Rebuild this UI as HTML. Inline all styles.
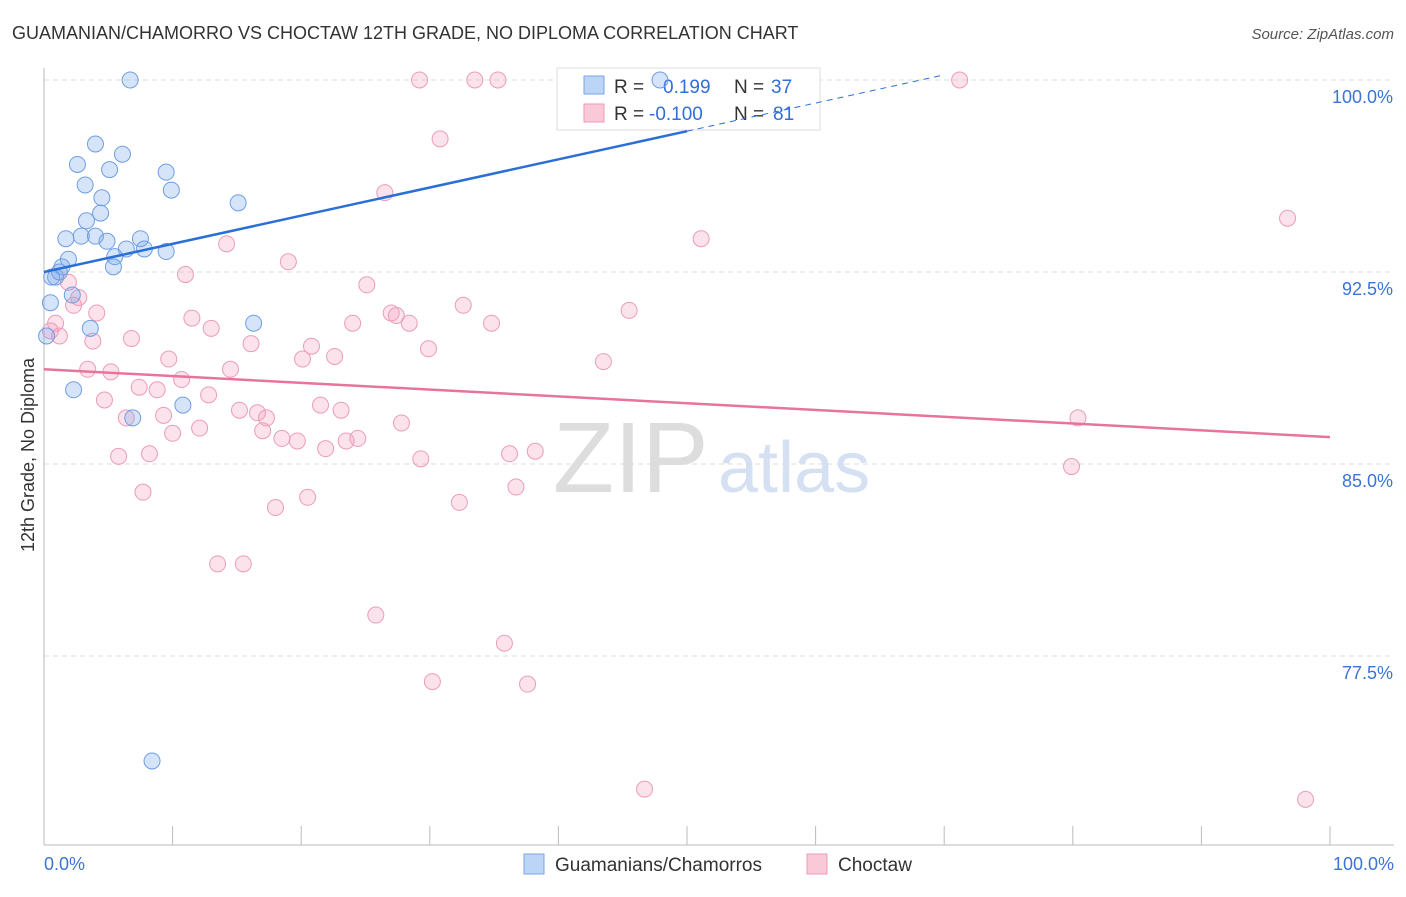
<!DOCTYPE html>
<html><head><meta charset="utf-8"><style>
body{margin:0;background:#fff;font-family:"Liberation Sans",sans-serif}
svg text{font-family:"Liberation Sans",sans-serif}
</style></head><body>
<svg id="c" width="1406" height="892">
<text x="12" y="39" font-size="18" fill="#333">GUAMANIAN/CHAMORRO VS CHOCTAW 12TH GRADE, NO DIPLOMA CORRELATION CHART</text>
<text x="1394" y="39" font-size="15" fill="#555" font-style="italic" text-anchor="end">Source: ZipAtlas.com</text>
<text x="553" y="492" font-size="100" fill="#ddd" font-family="Liberation Serif">ZIP</text>
<text x="718" y="492" font-size="72" fill="#d5e1f2">atlas</text>
<text transform="translate(34,455) rotate(-90)" font-size="18" fill="#333" text-anchor="middle">12th Grade, No Diploma</text>
<g id="grid"></g>
<g>
<rect x="557" y="68" width="263" height="62" fill="#fff" stroke="#ddd"/>
<rect x="584" y="76" width="20" height="18" fill="#bcd4f6" stroke="#7aa6e6"/>
<rect x="584" y="104" width="20" height="18" fill="#f9c9d8" stroke="#ee9ab6"/>
<text x="614" y="93" font-size="19" fill="#333">R = </text><text x="663" y="93" font-size="19" fill="#2f6fd6">0.199</text>
<text x="734" y="93" font-size="19" fill="#333">N = </text><text x="771" y="93" font-size="19" fill="#2f6fd6">37</text>
<text x="614" y="120" font-size="19" fill="#333">R = </text><text x="649" y="120" font-size="19" fill="#2f6fd6">-0.100</text>
<text x="734" y="120" font-size="19" fill="#333">N = </text><text x="773" y="120" font-size="19" fill="#2f6fd6">81</text>
</g>
<g id="marks"></g>
<g>
<rect x="524" y="854" width="20" height="20" fill="#bcd4f6" stroke="#7aa6e6"/>
<text x="555" y="871" font-size="19" fill="#333">Guamanians/Chamorros</text>
<rect x="807" y="854" width="20" height="20" fill="#f9c9d8" stroke="#ee9ab6"/>
<text x="838" y="871" font-size="19" fill="#333">Choctaw</text>
</g>
</svg>
<script>
const blueX=[6.7,47.9,4.0,6.1,2.6,5.1,9.5,3.2,9.9,4.5,15.1,4.4,3.3,1.7,2.9,4.0,4.9,7.5,6.4,7.8,9.5,5.5,1.9,1.4,5.4,0.9,1.2,0.5,2.2,16.3,3.6,0.2,2.3,10.8,6.9,8.4,0.6];
const blueY=[100,100,97.5,97.1,96.7,96.5,96.4,95.9,95.7,95.4,95.2,94.8,94.5,93.8,93.9,93.9,93.7,93.8,93.4,93.4,93.3,93.1,93.0,92.7,92.7,92.3,92.5,91.3,91.6,90.5,90.3,90.0,87.9,87.3,86.8,73.4,92.3];
const pinkX=[29.2,33.5,35.3,71.2,30.8,26.5,96.7,51.1,14.2,19.0,11.0,25.1,1.9,2.7,2.3,32.6,45.5,11.5,27.0,27.4,28.4,24.0,34.8,13.0,0.9,1.2,4.1,3.8,6.8,16.1,20.8,29.9,22.6,20.1,9.7,43.5,3.4,5.2,14.5,10.7,7.4,12.8,8.8,4.7,21.5,23.1,15.2,16.6,6.4,9.3,17.3,27.8,80.4,12.1,10.0,17.0,18.5,19.7,24.4,23.5,21.9,36.2,38.2,8.2,5.8,29.3,79.9,7.7,36.7,20.5,32.3,18.0,13.5,15.5,25.8,35.8,30.2,37.6,46.7,98.1,0.5];
const pinkY=[100,100,100,100,97.7,95.6,94.6,93.8,93.6,92.9,92.4,92.0,92.1,91.5,91.2,91.2,91.0,90.7,90.9,90.8,90.5,90.5,90.5,90.3,90.5,90.0,90.9,89.8,89.9,89.7,89.6,89.5,89.2,89.1,89.1,89.0,88.7,88.6,88.7,88.3,88.0,87.7,87.9,87.5,87.3,87.1,87.1,87.0,86.8,86.9,86.8,86.6,86.8,86.4,86.2,86.3,86.0,85.9,86.0,85.9,85.6,85.4,85.5,85.4,85.3,85.2,84.9,83.9,84.1,83.7,83.5,83.3,81.1,81.1,79.1,78.0,76.5,76.4,72.3,71.9,90.2];
const yTicks=[100,92.5,85,77.5];
const yTickLabels=["100.0%","92.5%","85.0%","77.5%"];
const blueTrend=[92.5,0.11];
const pinkTrend=[88.7,-0.0265];
const sx=v=>44+v*12.86, sy=v=>80+(100-v)*25.6;
const NS="http://www.w3.org/2000/svg";
function mk(tag,attrs,parent){const e=document.createElementNS(NS,tag);for(const k in attrs)e.setAttribute(k,attrs[k]);parent.appendChild(e);return e;}
const grid=document.getElementById('grid'), marks=document.getElementById('marks');
yTicks.forEach((t,i)=>{
  const l=mk('line',{x1:44,x2:1394,y1:sy(t),y2:sy(t),stroke:'#ddd','stroke-dasharray':'5,4'},grid);
  
  
  const tx=mk('text',{x:1393,y:sy(t)+23,'font-size':18,fill:'#3b74d6','text-anchor':'end'},grid);
  tx.textContent=yTickLabels[i];
  
  
});
const ax=mk('line',{x1:44,x2:44,y1:68,y2:845,stroke:'#bbb'},grid);


const bx=mk('line',{x1:44,x2:1394,y1:845,y2:845,stroke:'#bbb'},grid);


for(let i=0;i<=10;i++){const tk=mk('line',{x1:sx(i*10),x2:sx(i*10),y1:826,y2:845,stroke:'#bbb'},grid);

}
const xl=mk('text',{x:44,y:870,'font-size':18,fill:'#3b74d6'},grid);xl.textContent='0.0%';


const xr=mk('text',{x:1394,y:870,'font-size':18,fill:'#3b74d6','text-anchor':'end'},grid);xr.textContent='100.0%';


pinkX.forEach((x,i)=>{const c=mk('circle',{cx:sx(x),cy:sy(pinkY[i]),r:8,fill:'rgba(244,160,190,0.3)',stroke:'#ec9cba','stroke-width':1},marks);

});
blueX.forEach((x,i)=>{const c=mk('circle',{cx:sx(x),cy:sy(blueY[i]),r:8,fill:'rgba(120,165,235,0.3)',stroke:'#6f9ee2','stroke-width':1},marks);

});
const bl=mk('line',{x1:sx(0),y1:sy(blueTrend[0]),x2:sx(50),y2:sy(blueTrend[0]+blueTrend[1]*50),stroke:'#2a6fd6','stroke-width':2.5},marks);


const bd=mk('line',{x1:sx(50),y1:sy(blueTrend[0]+blueTrend[1]*50),x2:sx(70),y2:sy(blueTrend[0]+blueTrend[1]*70),stroke:'#2a6fd6','stroke-width':1,'stroke-dasharray':'6,5'},marks);


const pl=mk('line',{x1:sx(0),y1:sy(pinkTrend[0]),x2:sx(100),y2:sy(pinkTrend[0]+pinkTrend[1]*100),stroke:'#e8739c','stroke-width':2.5},marks);


</script>
</body></html>
